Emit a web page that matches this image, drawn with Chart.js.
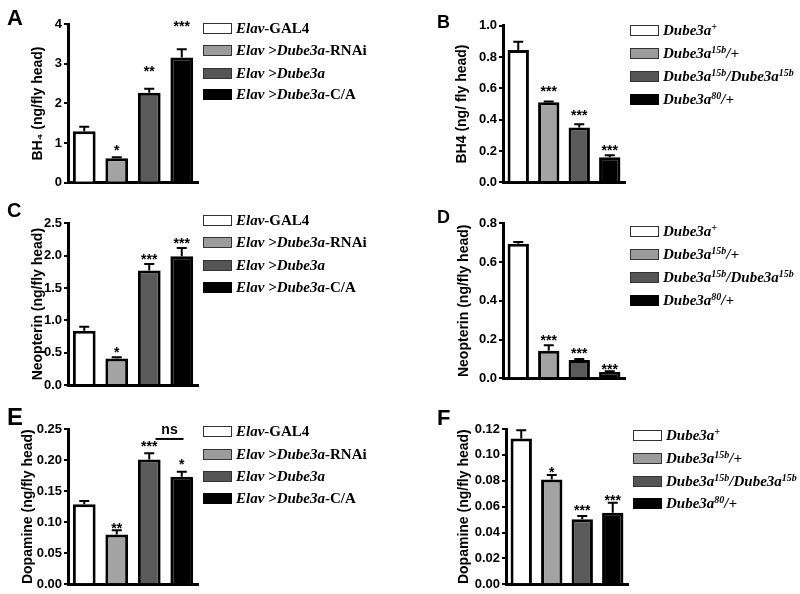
<!DOCTYPE html>
<html><head><meta charset="utf-8">
<script src="https://cdn.jsdelivr.net/npm/chart.js@4"></script>
<style>
html,body{margin:0;padding:0;background:#fff}
body{width:800px;height:594px;position:relative;overflow:hidden;font-family:"Liberation Sans",Arial,sans-serif}
canvas{position:absolute}
.letter{position:absolute;font-weight:bold;font-family:"Liberation Sans",Arial,sans-serif;line-height:1;color:#000}
.row{position:absolute;display:flex;align-items:center;height:11px;white-space:nowrap}
.box{width:27px;height:9px;border:1px solid #333;flex:none}
.txt{margin-left:4px;font-family:"Liberation Serif","Times New Roman",serif;font-weight:bold;font-size:15px;line-height:1;color:#000}
.txt sup{font-size:10px;vertical-align:5px;line-height:0}
</style>
</head><body>
<script>
// ---------- data ----------
const genotypesElav = ['Elav-GAL4', 'Elav >Dube3a-RNAi', 'Elav >Dube3a', 'Elav >Dube3a-C/A'];
const genotypesDube = ['Dube3a+', 'Dube3a15b/+', 'Dube3a15b/Dube3a15b', 'Dube3a80/+'];
const legendElav = ['<i>Elav</i>-GAL4', '<i>Elav &gt;Dube3a</i>-RNAi', '<i>Elav &gt;Dube3a</i>', '<i>Elav &gt;Dube3a</i>-C/A'];
const legendDube = ['<i>Dube3a<sup>+</sup></i>', '<i>Dube3a<sup>15b</sup>/+</i>', '<i>Dube3a<sup>15b</sup>/Dube3a<sup>15b</sup></i>', '<i>Dube3a<sup>80</sup>/+</i>'];

// A: BH4 (Elav lines)
const bh4Elav = [1.30, 0.62, 2.27, 3.16];
const bh4ElavSem = [0.11, 0.02, 0.10, 0.21];
const bh4ElavSig = ['', '*', '**', '***'];
const bh4ElavSigAt = [null, 0.90, 2.90, 4.03];
const ticksA = [0, 1, 2, 3, 4];
// B: BH4 (Dube3a mutants)
const bh4Dube = [0.845, 0.511, 0.350, 0.160];
const bh4DubeSem = [0.053, 0.005, 0.020, 0.012];
const bh4DubeSig = ['', '***', '***', '***'];
const bh4DubeSigAt = [null, 0.602, 0.449, 0.225];
const ticksB = [0, 0.2, 0.4, 0.6, 0.8, 1.0];
// C: Neopterin (Elav lines)
const neoElav = [0.84, 0.41, 1.77, 1.99];
const neoElavSem = [0.06, 0.02, 0.10, 0.13];
const neoElavSig = ['', '*', '***', '***'];
const neoElavSigAt = [null, 0.556, 1.99, 2.24];
const ticksC = [0, 0.5, 1.0, 1.5, 2.0, 2.5];
// D: Neopterin (Dube3a mutants)
const neoDube = [0.695, 0.142, 0.094, 0.033];
const neoDubeSem = [0.008, 0.028, 0.006, 0.003];
const neoDubeSig = ['', '***', '***', '***'];
const neoDubeSigAt = [null, 0.215, 0.146, 0.065];
const ticksD = [0, 0.2, 0.4, 0.6, 0.8];
// E: Dopamine (Elav lines)
const dopaElav = [0.129, 0.080, 0.201, 0.173];
const dopaElavSem = [0.005, 0.007, 0.010, 0.008];
const dopaElavSig = ['', '**', '***', '*'];
const dopaElavSigAt = [null, 0.0954, 0.227, 0.198];
const ticksE = [0, 0.05, 0.10, 0.15, 0.20, 0.25];
// F: Dopamine (Dube3a mutants)
const dopaDube = [0.1127, 0.0810, 0.0502, 0.0553];
const dopaDubeSem = [0.0063, 0.0034, 0.0025, 0.0077];
const dopaDubeSig = ['', '*', '***', '***'];
const dopaDubeSigAt = [null, 0.089, 0.0597, 0.0676];
const ticksF = [0, 0.02, 0.04, 0.06, 0.08, 0.10, 0.12];

// ---------- styling ----------
const barFill = ['#ffffff', '#a3a3a3', '#5a5a5a', '#000000'];
const legendFill = ['#ffffff', '#9c9c9c', '#555555', '#000000'];
Chart.defaults.font.family = '"Liberation Sans", Arial, sans-serif';
Chart.defaults.color = '#000';

const annot = {
  id: 'annot',
  afterDatasetsDraw(chart) {
    const p = chart.options.plugins.annot;
    const ctx = chart.ctx, ys = chart.scales.y;
    const meta = chart.getDatasetMeta(0);
    ctx.save();
    ctx.strokeStyle = '#000'; ctx.fillStyle = '#000'; ctx.lineWidth = 2;
    meta.data.forEach((bar, i) => {
      const x = bar.x;
      const yv = ys.getPixelForValue(p.values[i]);
      const ye = ys.getPixelForValue(p.values[i] + p.sem[i]);
      ctx.beginPath();
      ctx.moveTo(x, yv); ctx.lineTo(x, ye);
      ctx.moveTo(x - 5, ye); ctx.lineTo(x + 5, ye);
      ctx.stroke();
      if (p.sig[i]) {
        ctx.font = 'bold 14px "Liberation Sans", Arial';
        ctx.textAlign = 'center'; ctx.textBaseline = 'alphabetic';
        ctx.fillText(p.sig[i], x, ys.getPixelForValue(p.sigAt[i]) + 8);
      }
    });
    if (p.ns) {
      const x2 = meta.data[p.ns.from].x, x3 = meta.data[p.ns.to].x;
      const ly = ys.getPixelForValue(p.ns.lineAt);
      const mid = (x2 + x3) / 2 + 4;
      ctx.lineWidth = 2;
      ctx.beginPath(); ctx.moveTo(mid - 14, ly); ctx.lineTo(mid + 14, ly); ctx.stroke();
      ctx.font = 'bold 14px "Liberation Sans", Arial';
      ctx.textAlign = 'center'; ctx.textBaseline = 'alphabetic';
      ctx.fillText('ns', mid, ys.getPixelForValue(p.ns.textAt) + 3.6);
    }
    ctx.restore();
  }
};

function panel(p) {
  const yW = 68, padTop = 20, padBot = 10, padRight = 8;
  const left = p.axisX - yW;
  const top = Math.floor(p.yTop) - padTop;
  const width = yW + (p.axisRight - p.axisX) + padRight;
  const height = Math.ceil(p.yZero) + padBot - top;
  const c = document.createElement('canvas');
  c.width = width; c.height = height;
  c.style.left = left + 'px'; c.style.top = top + 'px';
  c.style.width = width + 'px'; c.style.height = height + 'px';
  document.body.appendChild(c);
  new Chart(c, {
    type: 'bar',
    data: { labels: p.labels, datasets: [{
      data: p.values, backgroundColor: barFill, borderColor: '#000', borderWidth: 3,
      barPercentage: 0.70, categoryPercentage: 1.0
    }]},
    options: {
      responsive: false, animation: false, devicePixelRatio: 1,
      layout: { padding: { top: p.yTop - top, bottom: height - (p.yZero - top), left: 0, right: padRight } },
      plugins: { legend: { display: false }, tooltip: { enabled: false },
        annot: { values: p.values, sem: p.sem, sig: p.sig, sigAt: p.sigAt, ns: p.ns } },
      scales: {
        x: { offset: true, grid: { display: false, drawTicks: false }, ticks: { display: false },
             border: { display: true, color: '#000', width: 3 },
             afterFit: s => { s.height = 0; } },
        y: { min: 0, max: p.ticks[p.ticks.length - 1],
             afterBuildTicks: s => { s.ticks = p.ticks.map(v => ({ value: v })); },
             ticks: { callback: v => Number(v).toFixed(p.dec), font: { size: 13, weight: 'bold' }, color: '#000', padding: 2 },
             grid: { drawOnChartArea: false, drawTicks: true, tickLength: 4, color: '#000', lineWidth: 2 },
             border: { color: '#000', width: 3 },
             title: { display: true, text: p.title, color: '#000', font: { size: 14, weight: 'bold' }, padding: { top: p.titlePad, bottom: 0 } },
             afterFit: s => { s.width = yW; } }
      }
    },
    plugins: [annot]
  });
}

function letter(t, x, y, size) {
  const d = document.createElement('div');
  d.className = 'letter'; d.textContent = t;
  d.style.left = x + 'px'; d.style.top = y + 'px'; d.style.fontSize = size + 'px';
  document.body.appendChild(d);
}
function legend(items, x, tops) {
  items.forEach((html, i) => {
    const r = document.createElement('div');
    r.className = 'row'; r.style.left = x + 'px'; r.style.top = tops[i] + 'px';
    const b = document.createElement('div'); b.className = 'box';
    b.style.background = legendFill[i];
    if (i === 3) b.style.borderColor = '#000';
    const t = document.createElement('span'); t.className = 'txt'; t.innerHTML = html;
    r.appendChild(b); r.appendChild(t);
    document.body.appendChild(r);
  });
}

panel({ labels: genotypesElav, values: bh4Elav, sem: bh4ElavSem, sig: bh4ElavSig, sigAt: bh4ElavSigAt,
  ticks: ticksA, dec: 0, title: 'BH\u2084 (ng/fly head)', titlePad: 30,
  axisX: 68, axisRight: 198, yTop: 24.3, yZero: 182.7 });
panel({ labels: genotypesDube, values: bh4Dube, sem: bh4DubeSem, sig: bh4DubeSig, sigAt: bh4DubeSigAt,
  ticks: ticksB, dec: 1, title: 'BH4 (ng/ fly head)', titlePad: 19,
  axisX: 503, axisRight: 625, yTop: 25.7, yZero: 182.3 });
panel({ labels: genotypesElav, values: neoElav, sem: neoElavSem, sig: neoElavSig, sigAt: neoElavSigAt,
  ticks: ticksC, dec: 1, title: 'Neopterin (ng/fly head)', titlePad: 30,
  axisX: 68, axisRight: 198, yTop: 223.3, yZero: 385 });
panel({ labels: genotypesDube, values: neoDube, sem: neoDubeSem, sig: neoDubeSig, sigAt: neoDubeSigAt,
  ticks: ticksD, dec: 1, title: 'Neopterin (ng/fly head)', titlePad: 21,
  axisX: 503, axisRight: 625, yTop: 223.3, yZero: 378.3 });
panel({ labels: genotypesElav, values: dopaElav, sem: dopaElavSem, sig: dopaElavSig, sigAt: dopaElavSigAt,
  ticks: ticksE, dec: 2, title: 'Dopamine (ng/fly head)', titlePad: 20,
  ns: { from: 2, to: 3, lineAt: 0.234, textAt: 0.247 },
  axisX: 68, axisRight: 198, yTop: 429, yZero: 584.3 });
panel({ labels: genotypesDube, values: dopaDube, sem: dopaDubeSem, sig: dopaDubeSig, sigAt: dopaDubeSigAt,
  ticks: ticksF, dec: 2, title: 'Dopamine (ng/fly head)', titlePad: 18,
  axisX: 506, axisRight: 628, yTop: 429, yZero: 584.3 });

letter('A', 7, 7, 22);
letter('B', 437, 12.5, 18);
letter('C', 7, 200, 20);
letter('D', 437, 207.5, 18);
letter('E', 7, 405, 24);
letter('F', 437, 407, 22);

legend(legendElav, 203, [23, 45, 68, 89]);
legend(legendDube, 630, [25, 48, 71, 94]);
legend(legendElav, 203, [215, 237, 260, 282]);
legend(legendDube, 630, [226, 249, 272, 295]);
legend(legendElav, 203, [426, 449, 471, 493]);
legend(legendDube, 633, [430, 453, 476, 498]);
</script>
</body></html>
